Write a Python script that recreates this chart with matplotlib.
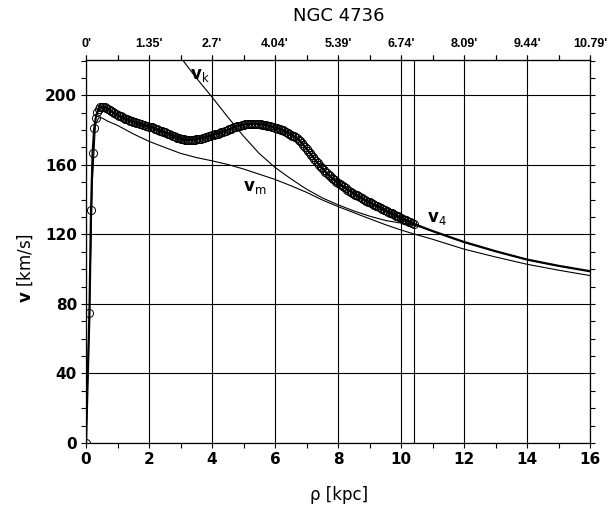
import numpy as np
import matplotlib
matplotlib.use('Agg')
import matplotlib.pyplot as plt
from matplotlib.ticker import MultipleLocator

plt.rcParams['font.family'] = 'DejaVu Sans'
plt.rcParams['mathtext.fontset'] = 'dejavusans'

# observed rotation curve (open circles), rho in kpc, v in km/s
rho_obs = [0.0, 0.11, 0.16, 0.21, 0.26, 0.31, 0.36, 0.40,
           0.45, 0.50, 0.55, 0.60, 0.65, 0.70, 0.75, 0.80, 0.85, 0.90,
           0.95, 1.00, 1.05, 1.10, 1.15, 1.20, 1.25, 1.30, 1.35, 1.40,
           1.45, 1.50, 1.55, 1.60, 1.65, 1.70, 1.75, 1.80, 1.85, 1.90,
           1.95, 2.00, 2.05, 2.10, 2.15, 2.20, 2.25, 2.30, 2.35, 2.40,
           2.45, 2.50, 2.55, 2.60, 2.65, 2.70, 2.75, 2.80, 2.85, 2.90,
           2.95, 3.00, 3.05, 3.10, 3.15, 3.20, 3.25, 3.30, 3.35, 3.40,
           3.45, 3.50, 3.55, 3.60, 3.65, 3.70, 3.75, 3.80, 3.85, 3.90,
           3.95, 4.00, 4.05, 4.10, 4.15, 4.20, 4.25, 4.30, 4.35, 4.40,
           4.45, 4.50, 4.55, 4.60, 4.65, 4.70, 4.75, 4.80, 4.85, 4.90,
           4.95, 5.00, 5.05, 5.10, 5.15, 5.20, 5.25, 5.30, 5.35, 5.40,
           5.45, 5.50, 5.55, 5.60, 5.65, 5.70, 5.75, 5.80, 5.85, 5.90,
           5.95, 6.00, 6.05, 6.10, 6.15, 6.20, 6.25, 6.30, 6.35, 6.40,
           6.45, 6.50, 6.55, 6.60, 6.65, 6.70, 6.75, 6.80, 6.85, 6.90,
           6.95, 7.00, 7.05, 7.10, 7.15, 7.20, 7.25, 7.30, 7.35, 7.40,
           7.45, 7.50, 7.55, 7.60, 7.65, 7.70, 7.75, 7.80, 7.85, 7.90,
           7.95, 8.00, 8.05, 8.10, 8.15, 8.20, 8.25, 8.30, 8.35, 8.40,
           8.45, 8.50, 8.55, 8.60, 8.65, 8.70, 8.75, 8.80, 8.85, 8.90,
           8.95, 9.00, 9.05, 9.10, 9.15, 9.20, 9.25, 9.30, 9.35, 9.40,
           9.45, 9.50, 9.55, 9.60, 9.65, 9.70, 9.75, 9.80, 9.85, 9.90,
           9.95, 10.00, 10.05, 10.10, 10.15, 10.20, 10.25, 10.30, 10.35, 10.40]
v_obs = [0.0, 75.0, 134.0, 167.0, 181.0, 187.0, 190.3, 192.0,
         193.0, 193.3, 193.3, 193.0, 192.6, 192.0, 191.4, 190.8, 190.2, 189.6,
         189.0, 188.5, 188.1, 187.8, 187.4, 187.0, 186.6, 186.2, 185.8, 185.4,
         185.1, 184.8, 184.5, 184.2, 183.9, 183.6, 183.3, 183.0, 182.7, 182.5,
         182.2, 182.0, 181.7, 181.5, 181.1, 180.8, 180.4, 180.0, 179.6, 179.3,
         178.9, 178.6, 178.2, 177.9, 177.5, 177.1, 176.7, 176.3, 175.9, 175.6,
         175.3, 175.0, 174.8, 174.6, 174.5, 174.4, 174.3, 174.3, 174.3, 174.4,
         174.5, 174.6, 174.7, 174.9, 175.1, 175.3, 175.5, 175.8, 176.1, 176.4,
         176.7, 177.0, 177.2, 177.5, 177.7, 178.0, 178.3, 178.7, 179.0, 179.4,
         179.7, 180.1, 180.4, 180.8, 181.1, 181.5, 181.8, 182.1, 182.4, 182.6,
         182.8, 183.0, 183.2, 183.3, 183.4, 183.5, 183.6, 183.6, 183.6, 183.6,
         183.5, 183.4, 183.3, 183.1, 183.0, 182.8, 182.6, 182.4, 182.2, 181.9,
         181.6, 181.3, 181.1, 180.8, 180.5, 180.2, 179.9, 179.5, 179.0, 178.5,
         177.9, 177.3, 176.8, 176.3, 175.8, 175.2, 174.4, 173.5, 172.5, 171.5,
         170.4, 169.3, 168.2, 167.0, 165.8, 164.5, 163.3, 162.2, 161.1, 160.0,
         159.0, 158.0, 157.0, 156.0, 155.1, 154.2, 153.4, 152.6, 151.8, 151.1,
         150.4, 149.7, 149.0, 148.4, 147.8, 147.2, 146.5, 145.8, 145.2, 144.6,
         144.0, 143.5, 142.9, 142.4, 141.9, 141.4, 140.9, 140.4, 139.9, 139.4,
         138.9, 138.5, 138.0, 137.5, 137.0, 136.6, 136.1, 135.7, 135.2, 134.8,
         134.3, 133.9, 133.4, 133.0, 132.5, 132.1, 131.6, 131.2, 130.7, 130.3,
         129.8, 129.4, 128.9, 128.5, 128.1, 127.7, 127.3, 126.9, 126.5, 126.1]

# v4 beyond the last measured point
rho_tail = [11.0, 12.0, 13.0, 14.0, 15.0, 16.0]
v_tail = [121.9, 115.6, 110.3, 105.5, 101.9, 98.8]

# model curve v_m
rho_m = [0.0, 0.1, 0.2, 0.3, 0.4, 0.5, 0.7, 1.0, 1.5, 2.0, 2.5, 3.0, 3.5,
         4.0, 4.5, 5.0, 5.5, 6.0, 6.5, 7.0, 7.5, 8.0, 8.5, 9.0, 9.5,
         10.0, 10.4, 11.0, 12.0, 13.0, 14.0, 15.0, 16.0]
v_m = [0.0, 70.0, 150.0, 183.0, 187.0, 187.0, 185.0, 182.7, 177.8, 173.5,
       170.0, 166.6, 164.2, 162.3, 160.2, 157.6, 154.6, 151.6, 148.0, 144.2,
       139.8, 136.0, 132.5, 129.0, 125.6, 122.5, 120.3, 117.2, 111.5, 107.0,
       102.8, 99.4, 96.3]

# keplerian curve v_k (joins v4 past the last point)
rho_k = [3.08, 3.5, 4.0, 4.5, 5.0, 5.5, 6.0, 6.5, 7.0, 7.5, 8.0, 8.5,
         9.0, 9.5, 10.0, 10.4]
v_k = [220.0, 210.0, 199.0, 187.5, 176.5, 166.5, 158.5, 152.0, 146.0,
       141.0, 137.0, 133.5, 130.5, 128.0, 126.5, 125.5]

x_ticks = [0, 2, 4, 6, 8, 10, 12, 14, 16]
arcmin_labels = ["0'", "1.35'", "2.7'", "4.04'", "5.39'", "6.74'", "8.09'", "9.44'", "10.79'"]
y_ticks = [0, 40, 80, 120, 160, 200]

fig = plt.figure(figsize=(6.08, 5.11), dpi=100)
ax = fig.add_axes([86 / 608, 68 / 511, 504 / 608, 382.5 / 511])

rho4 = rho_obs + rho_tail
v4 = v_obs + v_tail
ax.plot(rho_m, v_m, color='black', lw=0.8)
ax.plot(rho_k + rho_tail, v_k + v_tail, color='black', lw=0.8)
ax.plot(rho4, v4, color='black', lw=1.6)
ax.plot(rho_obs, v_obs, ls='none', marker='o', ms=5.8, mfc='none',
        mec='black', mew=0.7)

# end of measured data
ax.axvline(rho_obs[-1], color='black', lw=0.8)

ax.set_xlim(0, 16)
ax.set_ylim(0, 220)
ax.set_xticks(x_ticks)
ax.set_yticks(y_ticks)
ax.xaxis.set_minor_locator(MultipleLocator(1))
ax.yaxis.set_minor_locator(MultipleLocator(10))
ax.grid(True, which='major', color='black', lw=0.8)
ax.set_axisbelow(True)
ax.tick_params(which='both', direction='out', length=3.5, width=0.8,
               right=True, top=True, labelsize=11, pad=3)
for lbl in ax.get_xticklabels() + ax.get_yticklabels():
    lbl.set_fontweight('bold')
for sp in ax.spines.values():
    sp.set_linewidth(0.9)

top = ax.secondary_xaxis('top')
top.set_xticks(x_ticks, arcmin_labels)
top.xaxis.set_minor_locator(MultipleLocator(1))
top.tick_params(which='both', direction='out', length=3.5, width=0.8,
                labelsize=9, pad=4)
for lbl in top.get_xticklabels():
    lbl.set_fontweight('bold')
    lbl.set_family('Liberation Sans')

ax.text(3.61, 211.4, r'$\mathbf{v}_\mathrm{k}$', fontsize=12, ha='center', va='center')
ax.text(5.35, 147.3, r'$\mathbf{v}_\mathrm{m}$', fontsize=12, ha='center', va='center')
ax.text(11.15, 129.2, r'$\mathbf{v}_\mathrm{4}$', fontsize=12, ha='center', va='center')

fig.text(339 / 608, 1 - 16 / 511, 'NGC 4736', fontsize=13, ha='center', va='center')
fig.text(339 / 608, 1 - 495 / 511, 'ρ [kpc]', fontsize=12, ha='center', va='center')
fig.text(25 / 608, 1 - 268 / 511, r'$\mathbf{v}$ [km/s]', fontsize=12,
         ha='center', va='center', rotation=90)

fig.savefig('out.png', dpi=100)
